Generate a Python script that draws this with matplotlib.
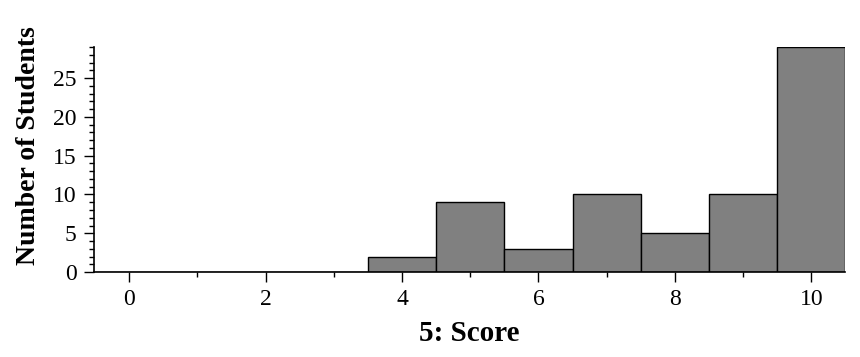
import matplotlib
matplotlib.use("Agg")
import matplotlib.pyplot as plt
from matplotlib.ticker import MultipleLocator

scores = [0, 1, 2, 3, 4, 5, 6, 7, 8, 9, 10]
students = [0, 0, 0, 0, 2, 9, 3, 10, 5, 10, 29]

plt.rcParams["font.family"] = ["Liberation Serif", "DejaVu Serif"]

fig = plt.figure(figsize=(8.6, 3.57), dpi=100)
ax = fig.add_axes([0.109, 0.238, 0.874, 0.630])

ax.bar(scores, students, width=1.0, color="#808080", edgecolor="black", linewidth=1.0)

ax.set_xlim(-0.52, 10.5)
ax.set_ylim(0, 29)
ax.xaxis.set_major_locator(MultipleLocator(2))
ax.xaxis.set_minor_locator(MultipleLocator(1))
ax.yaxis.set_major_locator(MultipleLocator(5))
ax.yaxis.set_minor_locator(MultipleLocator(1))

for s in ["top", "right"]:
    ax.spines[s].set_visible(False)
for s in ["left", "bottom"]:
    ax.spines[s].set_linewidth(1.2)

ax.tick_params(axis="both", which="major", labelsize=17, length=7.2, width=1.0, pad=5)
ax.tick_params(axis="both", which="minor", length=3.5, width=1.0)

ax.set_xlabel("5: Score", fontsize=21, fontweight="bold")
ax.set_ylabel("Number of Students", fontsize=20, fontweight="bold")
ax.xaxis.set_label_coords(0.5, -0.215)
ax.yaxis.set_label_coords(-0.07, 0.56)

fig.savefig("out.png", dpi=100)
plt.close(fig)
